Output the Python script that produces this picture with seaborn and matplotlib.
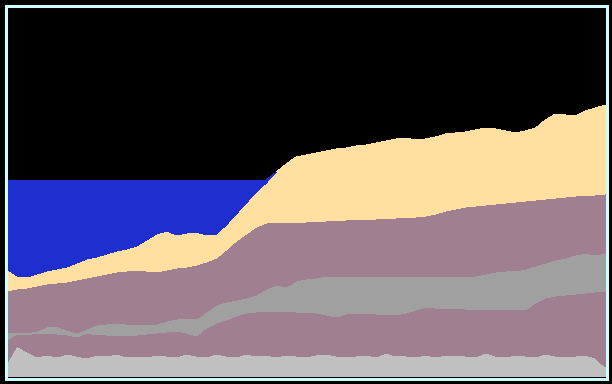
import numpy as np
import matplotlib
matplotlib.use("Agg")
import matplotlib.pyplot as plt
import seaborn as sns

sns.set_theme(style="dark")

# sample index (61 evenly spaced samples across the chart)
steps = list(range(61))

# layer thicknesses, bottom to top
base_gray = [14, 31, 25, 20, 22, 20, 23, 21, 19, 22, 21, 23, 20, 21, 20, 22, 21, 20, 23, 21,
             20, 23, 21, 20, 23, 21, 22, 20, 22, 21, 20, 22, 23, 21, 20, 21, 22, 20, 24, 21,
             21, 20, 22, 20, 22, 21, 21, 20, 24, 21, 20, 22, 21, 20, 23, 21, 20, 21, 22, 19, 10]
low_mauve = [23, 12, 17, 24, 21, 23, 19, 19, 25, 20, 21, 18, 21, 21, 23, 22, 24, 26, 21, 20,
             29, 31, 36, 41, 41, 44, 43, 45, 43, 44, 44, 42, 39, 39, 43, 43, 41, 43, 38, 41,
             43, 47, 48, 49, 46, 47, 47, 47, 43, 46, 47, 45, 46, 54, 56, 60, 62, 62, 62, 66, 76]
mid_gray = [8, 1, 2, 2, 7, 8, 5, 4, 4, 10, 11, 13, 12, 10, 9, 9, 11, 12, 14, 17,
            16, 18, 18, 16, 15, 17, 23, 27, 25, 31, 34, 35, 39, 40, 37, 36, 37, 37, 38, 38,
            36, 33, 30, 31, 32, 32, 32, 34, 36, 38, 39, 39, 41, 37, 35, 36, 37, 39, 40, 37, 38]
up_mauve = [41, 44, 45, 45, 43, 43, 48, 53, 51, 49, 50, 51, 53, 55, 54, 52, 51, 51, 52, 54,
            50, 47, 52, 59, 64, 68, 66, 62, 64, 58, 57, 56, 55, 56, 57, 57, 57, 58, 58, 59,
            59, 60, 61, 63, 66, 68, 70, 70, 69, 68, 68, 69, 68, 66, 64, 62, 61, 59, 57, 60, 59]
sand = [22, 13, 11, 12, 13, 14, 15, 17, 19, 19, 20, 21, 22, 24, 31, 38, 39, 33, 34, 33,
        27, 24, 25, 27, 31, 35, 40, 51, 59, 66, 67, 69, 70, 72, 72, 74, 75, 76, 78, 79,
        80, 77, 77, 77, 77, 76, 75, 76, 77, 75, 72, 69, 70, 72, 79, 84, 82, 80, 85, 87, 89]
blue = [89, 96, 97, 94, 91, 89, 87, 83, 79, 77, 74, 71, 69, 66, 60, 54, 51, 55, 53, 52,
        55, 54, 45, 34, 23, 12, 3, 0, 0, 0, 0, 0, 0, 0, 0, 0, 0, 0, 0, 0,
        0, 0, 0, 0, 0, 0, 0, 0, 0, 0, 0, 0, 0, 0, 0, 0, 0, 0, 0, 0, 0]

colors = ["#c0c0c0", "#a08090", "#a0a0a0", "#a08090", "#ffe0a0", "#1f2ecf"]

W, H = 612, 384
fig = plt.figure(figsize=(W / 100, H / 100), dpi=100, facecolor="black")
ax = fig.add_axes([5.5 / W, 5.5 / H, 601 / W, 373 / H])
ax.set_facecolor("black")

ax.stackplot(steps, base_gray, low_mauve, mid_gray, up_mauve, sand, blue,
             colors=colors, linewidth=0, edgecolor="none", antialiased=False)

ax.set_xlim(-0.15, 60.13)
ax.set_ylim(-1.5, 371.5)
ax.set_xticks([])
ax.set_yticks([])
ax.grid(False)
for s in ax.spines.values():
    s.set_visible(True)
    s.set_color("#ccffff")
    s.set_linewidth(2.16)

fig.savefig("out.png", dpi=100, facecolor="black")
